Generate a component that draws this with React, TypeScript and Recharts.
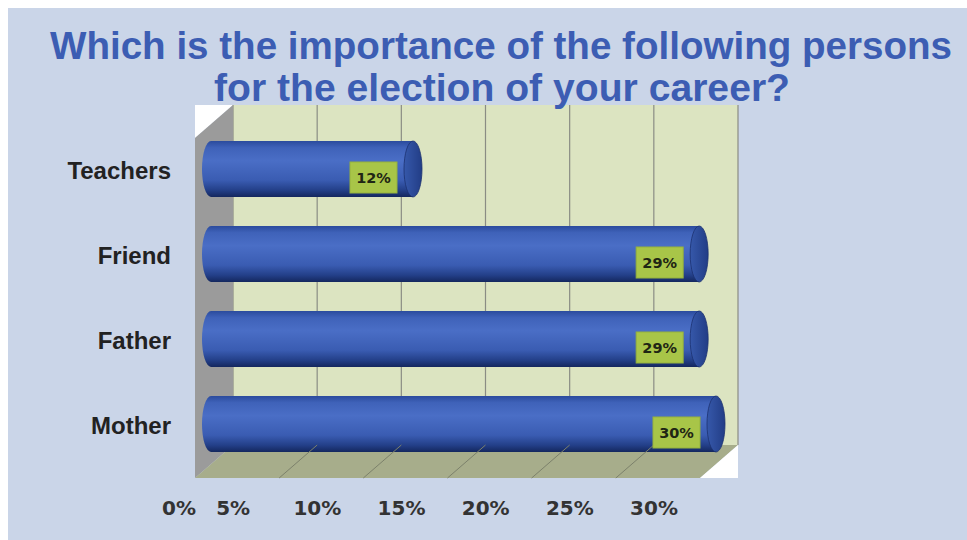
import React from 'react';
import {
  BarChart,
  Bar,
  XAxis,
  YAxis,
  CartesianGrid,
  ReferenceArea,
  ReferenceLine,
  LabelList
} from 'recharts';

// ============================================================================
// Data
// ============================================================================

const persons = ['Teachers', 'Friend', 'Father', 'Mother'];
const importance = [12, 29, 29, 30];
const percentTicks = [0, 5, 10, 15, 20, 25, 30];
const floorLines = [5, 10, 15, 20, 25];

const titleLines = [
  'Which is the importance of the following persons',
  'for the election of your career?'
];

const chartData = persons.map((name, i) => ({ name, value: importance[i] }));

// ============================================================================
// 3D look
// ============================================================================

// depth of the fake 3D box (back wall -> front edge)
const DEPTH_X = 38;
const DEPTH_Y = 33;
// bars sit in the middle of the box depth
const BAR_DX = -22;
const BAR_DY = 21;

const BoxWalls = (props: any) => {
  const { x, y, width, height } = props;
  const b = y + height;
  const r = x + width;
  return (
    <g>
      {/* white top-left corner */}
      <polygon
        points={`${x - DEPTH_X},${y} ${x},${y} ${x - DEPTH_X},${y + DEPTH_Y}`}
        fill="#ffffff"
      />
      {/* side wall */}
      <polygon
        points={`${x - DEPTH_X},${y + DEPTH_Y} ${x},${y} ${x},${b} ${x - DEPTH_X},${b + DEPTH_Y}`}
        fill="#9b9b9b"
      />
      {/* floor */}
      <polygon
        points={`${x},${b} ${r},${b} ${r - DEPTH_X},${b + DEPTH_Y} ${x - DEPTH_X},${b + DEPTH_Y}`}
        fill="#a7ad8b"
      />
      {/* white bottom-right corner */}
      <polygon
        points={`${r},${b} ${r},${b + DEPTH_Y} ${r - DEPTH_X},${b + DEPTH_Y}`}
        fill="#ffffff"
      />
    </g>
  );
};

const FloorLine = (props: any) => {
  const { x1, y1, y2 } = props;
  const b = Math.max(y1, y2);
  return (
    <line
      x1={x1}
      y1={b}
      x2={x1 - DEPTH_X}
      y2={b + DEPTH_Y}
      stroke="#7c816b"
      strokeWidth={1}
    />
  );
};

const Cylinder = (props: any) => {
  const { x, y, width, height } = props;
  if (!width) return null;
  const x0 = x + BAR_DX;
  const y0 = y + BAR_DY;
  const x1 = x0 + width;
  const rx = 9;
  const ry = height / 2;
  return (
    <g>
      <path
        d={`M${x1},${y0} L${x0},${y0} A${rx},${ry} 0 0 0 ${x0},${y0 + height} L${x1},${y0 + height} Z`}
        fill="url(#cylBody)"
      />
      <ellipse
        cx={x1}
        cy={y0 + ry}
        rx={rx}
        ry={ry}
        fill="url(#cylCap)"
        stroke="#1c3170"
        strokeWidth={0.8}
      />
    </g>
  );
};

const ValueBox = (props: any) => {
  const vb = props.viewBox || {};
  const x = props.x ?? vb.x;
  const y = props.y ?? vb.y;
  const width = props.width ?? vb.width;
  const height = props.height ?? vb.height;
  const capX = x + BAR_DX + width;
  const cy = y + BAR_DY + height / 2;
  const bw = 47;
  const bh = 31;
  const bx = capX - 16 - bw;
  const by = cy - 7;
  return (
    <g>
      <rect x={bx} y={by} width={bw} height={bh} fill="#a8c548" stroke="#95b23c" strokeWidth={1} />
      <text
        x={bx + bw / 2}
        y={by + bh / 2 + 5}
        textAnchor="middle"
        fontFamily="'DejaVu Sans', sans-serif"
        fontWeight="bold"
        fontSize={14.5}
        fill="#1f2614"
      >
        {props.value}%
      </text>
    </g>
  );
};

const XTick = (props: any) => {
  const { x, y, payload } = props;
  // labels follow the front edge of the floor; the first one is pushed in
  const shift = payload.value === 0 ? -54 : -84;
  return (
    <text
      x={x + shift}
      y={y + 70}
      textAnchor="middle"
      fontFamily="'DejaVu Sans', sans-serif"
      fontWeight="bold"
      fontSize={20}
      fill="#333333"
    >
      {payload.value}%
    </text>
  );
};

const YTick = (props: any) => {
  const { x, y, payload } = props;
  return (
    <text
      x={x}
      y={y + 31}
      textAnchor="end"
      fontFamily="'Liberation Sans', Arial, sans-serif"
      fontWeight="bold"
      fontSize={24}
      fill="#222222"
    >
      {payload.value}
    </text>
  );
};

// ============================================================================
// App
// ============================================================================

export default function App() {
  return (
    <div style={{ position: 'absolute', left: 0, top: 0, width: 967, height: 540, background: '#ffffff' }}>
      <div
        style={{
          position: 'absolute',
          left: 8,
          top: 8,
          width: 959,
          height: 532,
          background: '#cad5e8'
        }}
      />
      <svg width={0} height={0} style={{ position: 'absolute' }}>
        <defs>
          <linearGradient id="cylBody" x1="0" y1="0" x2="0" y2="1">
            <stop offset="0" stopColor="#2b4b9d" />
            <stop offset="0.12" stopColor="#3f62b9" />
            <stop offset="0.35" stopColor="#4a6ec6" />
            <stop offset="0.7" stopColor="#3a5cb2" />
            <stop offset="0.88" stopColor="#233f88" />
            <stop offset="1" stopColor="#14275e" />
          </linearGradient>
          <linearGradient id="cylCap" x1="0" y1="0" x2="1" y2="0">
            <stop offset="0" stopColor="#3658aa" />
            <stop offset="1" stopColor="#223d86" />
          </linearGradient>
        </defs>
      </svg>
      <div style={{ position: 'absolute', left: 0, top: 0 }}>
        <BarChart
          width={967}
          height={540}
          data={chartData}
          layout="vertical"
          margin={{ top: 105, right: 229, bottom: 65, left: 33 }}
        >
          <CartesianGrid
            horizontal={false}
            fill="#dce4c1"
            fillOpacity={1}
            stroke="#8a8c84"
            strokeWidth={1.2}
          />
          <XAxis
            type="number"
            domain={[0, 30]}
            ticks={percentTicks}
            axisLine={false}
            tickLine={false}
            tickSize={0}
            tickMargin={0}
            tick={<XTick />}
            height={30}
          />
          <YAxis
            type="category"
            dataKey="name"
            width={200}
            axisLine={false}
            tickLine={false}
            tickSize={0}
            tickMargin={62}
            tick={<YTick />}
          />
          <ReferenceArea x1={0} x2={30} shape={<BoxWalls />} ifOverflow="visible" />
          {floorLines.map((v) => (
            <ReferenceLine key={v} x={v} shape={<FloorLine />} />
          ))}
          <Bar
            dataKey="value"
            barSize={56}
            shape={<Cylinder />}
            isAnimationActive={false}
          >
            <LabelList dataKey="value" content={<ValueBox />} />
          </Bar>
        </BarChart>
      </div>
      <svg
        width={967}
        height={115}
        style={{ position: 'absolute', left: 0, top: 0 }}
      >
        <text
          x={50}
          y={59}
          textLength={902}
          lengthAdjust="spacingAndGlyphs"
          fontFamily="'Liberation Sans', Arial, sans-serif"
          fontWeight="bold"
          fontSize={38.5}
          fill="#3c5db3"
        >
          {titleLines[0]}
        </text>
        <text
          x={214}
          y={101}
          textLength={576}
          lengthAdjust="spacingAndGlyphs"
          fontFamily="'Liberation Sans', Arial, sans-serif"
          fontWeight="bold"
          fontSize={38.5}
          fill="#3c5db3"
        >
          {titleLines[1]}
        </text>
      </svg>
    </div>
  );
}
